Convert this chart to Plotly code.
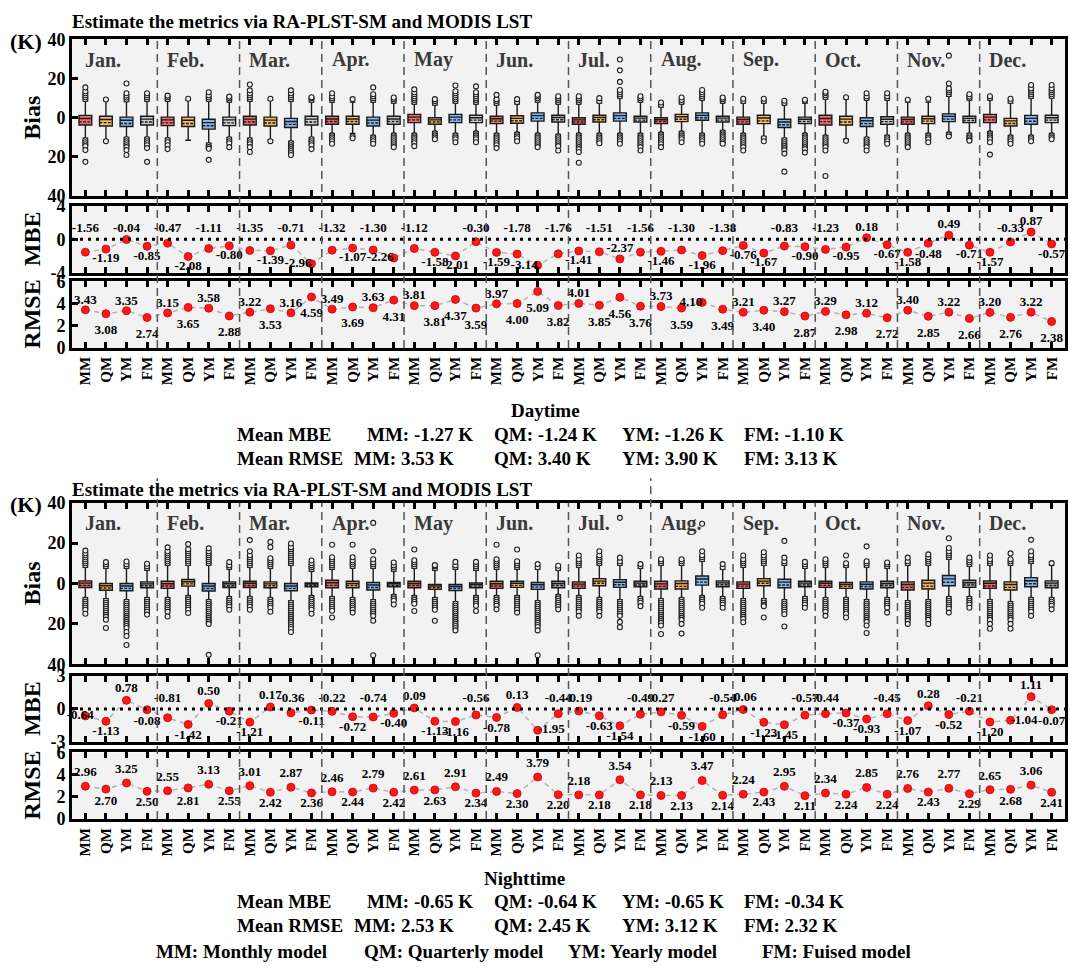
import plotly.graph_objects as go

W, H = 1070, 977
FONT = "Liberation Serif"

months = ["Jan.", "Feb.", "Mar.", "Apr.", "May", "Jun.",
          "Jul.", "Aug.", "Sep.", "Oct.", "Nov.", "Dec."]
models = ["MM", "QM", "YM", "FM"]
model_names = ["MM: Monthly model", "QM: Quarterly model",
               "YM: Yearly model", "FM: Fuised model"]

# ---- monthly MBE / RMSE (MM, QM, YM, FM for each month) ----
day_mbe = [-1.56, -1.19, -0.04, -0.85, -0.47, -2.08, -1.11, -0.80,
           -1.35, -1.39, -0.71, -2.96, -1.32, -1.07, -1.30, -2.26,
           -1.12, -1.58, -2.01, -0.30, -1.59, -1.78, -3.14, -1.76,
           -1.41, -1.51, -2.37, -1.56, -1.46, -1.30, -1.96, -1.38,
           -0.76, -1.67, -0.83, -0.90, -1.23, -0.95, 0.18, -0.67,
           -1.58, -0.48, 0.49, -0.71, -1.57, -0.33, 0.87, -0.57]
day_rmse = [3.43, 3.08, 3.35, 2.74, 3.15, 3.65, 3.58, 2.88,
            3.22, 3.53, 3.16, 4.59, 3.49, 3.69, 3.63, 4.31,
            3.81, 3.81, 4.37, 3.59, 3.97, 4.00, 5.09, 3.82,
            4.01, 3.85, 4.56, 3.76, 3.73, 3.59, 4.10, 3.49,
            3.21, 3.40, 3.27, 2.87, 3.29, 2.98, 3.12, 2.72,
            3.40, 2.85, 3.22, 2.66, 3.20, 2.76, 3.22, 2.38]
night_mbe = [-0.64, -1.13, 0.78, -0.08, -0.81, -1.42, 0.50, -0.21,
             -1.21, 0.17, -0.36, -0.11, -0.22, -0.72, -0.74, -0.40,
             0.09, -1.13, -1.16, -0.56, -0.78, 0.13, -1.95, -0.44,
             -0.19, -0.63, -1.54, -0.49, -0.27, -0.59, -1.60, -0.54,
             -0.06, -1.23, -1.45, -0.57, -0.44, -0.37, -0.93, -0.45,
             -1.07, 0.28, -0.52, -0.21, -1.20, -1.04, 1.11, -0.07]
night_rmse = [2.96, 2.70, 3.25, 2.50, 2.55, 2.81, 3.13, 2.55,
              3.01, 2.42, 2.87, 2.36, 2.46, 2.44, 2.79, 2.42,
              2.61, 2.63, 2.91, 2.34, 2.49, 2.30, 3.79, 2.20,
              2.18, 2.18, 3.54, 2.18, 2.13, 2.13, 3.47, 2.14,
              2.24, 2.43, 2.95, 2.11, 2.34, 2.24, 2.85, 2.24,
              2.76, 2.43, 2.77, 2.29, 2.65, 2.68, 3.06, 2.41]

day_means = {"MBE": ["-1.27", "-1.24", "-1.26", "-1.10"],
             "RMSE": ["3.53", "3.40", "3.90", "3.13"]}
night_means = {"MBE": ["-0.65", "-0.64", "-0.65", "-0.34"],
               "RMSE": ["2.53", "2.45", "3.12", "2.32"]}

# ---- bias box statistics per month: (lower whisker, q1, median, mean, q3, upper whisker) ----
day_box_mm = [(-10.5, -3.7, -0.4, -2.1, 1.2, 8.5), (-10.5, -4.0, -1.1, -2.6, 0.3, 8.5),
              (-10.5, -3.7, -0.7, -2.2, 0.8, 8.5), (-8, -3.3, -0.6, -1.9, 0.8, 8),
              (-8, -2.5, 0.3, -1.1, 1.7, 7), (-8, -3.0, -0.5, -1.7, 0.8, 6.5),
              (-8, -3.3, -1.1, -2.2, 0.0, 7), (-7.5, -3.0, -1.0, -2.0, 0.0, 5.5),
              (-8, -3.3, -0.9, -2.1, 0.3, 7.5), (-9, -3.7, -0.4, -2.0, 1.3, 9.5),
              (-8, -3.3, -0.9, -2.1, 0.3, 8), (-7, -2.5, 0.3, -1.1, 1.7, 9)]
day_box_qm = [(-11.5, -4.2, -0.9, -2.5, 0.8, 8.8), (-11.5, -4.5, -1.3, -2.9, 0.3, 9),
              (-11.5, -4.2, -1.2, -2.7, 0.3, 9), (-8, -3.3, -0.6, -1.9, 0.8, 8),
              (-7, -3.3, -1.1, -2.2, 0.0, 6.5), (-7.5, -2.8, -0.3, -1.5, 1.0, 7),
              (-8, -2.2, 0.1, -1.0, 1.3, 7.5), (-7, -2.0, 0.5, -0.8, 1.7, 7),
              (-9.5, -3.0, -0.1, -1.6, 1.3, 7.5), (-11, -3.7, -0.7, -2.2, 0.8, 9.5),
              (-8, -3.0, -0.5, -1.7, 0.8, 8), (-9, -4.2, -1.6, -2.9, -0.3, 7.5)]
day_box_ym = [(-10, -4.5, -1.3, -2.9, 0.3, 8.3), (-13, -5.8, -2.5, -4.1, -0.8, 8.5),
              (-12, -5.0, -1.9, -3.4, -0.3, 8.5), (-9, -4.2, -1.2, -2.7, 0.3, 8),
              (-8, -2.5, 0.3, -1.1, 1.7, 7.5), (-8, -1.7, 1.1, -0.3, 2.5, 8),
              (-8, -1.7, 1.1, -0.3, 2.5, 10), (-8, -1.3, 1.2, 0.0, 2.5, 9),
              (-10.5, -5.0, -2.2, -3.6, -0.8, 6.5), (-10, -4.5, -1.5, -3.0, 0.0, 9),
              (-7.5, -2.0, 0.7, -0.7, 2.0, 11), (-9, -3.3, -0.3, -1.8, 1.2, 10)]
day_box_fm = [(-10, -3.7, -0.7, -2.2, 0.8, 8.5), (-10, -4.0, -1.1, -2.6, 0.3, 8),
              (-10, -3.7, -0.7, -2.2, 0.8, 8), (-8, -3.3, -0.6, -1.9, 0.8, 7.5),
              (-7, -2.5, 0.0, -1.2, 1.3, 7), (-8.5, -2.2, 0.1, -1.0, 1.3, 7),
              (-8, -2.2, -0.2, -1.2, 0.8, 8), (-6.5, -2.2, -0.2, -1.2, 0.8, 7.5),
              (-8, -3.0, -0.8, -1.9, 0.3, 7.5), (-9, -3.3, -0.8, -2.0, 0.5, 9),
              (-8, -2.5, -0.3, -1.4, 0.8, 9), (-8, -2.5, 0.0, -1.2, 1.3, 10)]

night_box_mm = [(-7, -2.0, 0.2, -0.9, 1.3, 8), (-7, -2.4, -0.1, -1.2, 1.1, 9),
                (-6.5, -2.0, 0.1, -1.0, 1.1, 8), (-6.5, -2.1, 0.4, -0.9, 1.6, 7),
                (-6, -2.1, 0.0, -1.0, 1.1, 7.5), (-6, -2.4, -0.1, -1.2, 1.1, 7),
                (-6, -2.4, -0.3, -1.3, 0.8, 8), (-7.5, -2.7, -0.2, -1.4, 1.1, 9),
                (-7.5, -2.4, -0.3, -1.3, 0.8, 8), (-7, -1.9, 0.1, -0.9, 1.1, 8),
                (-8.5, -3.2, -0.5, -1.9, 0.8, 9), (-8, -2.4, 0.1, -1.2, 1.3, 9)]
night_box_qm = [(-7.5, -3.3, -1.1, -2.2, 0.0, 7.5), (-6, -1.3, 0.9, -0.2, 2.0, 9),
                (-7, -2.1, -0.2, -1.1, 0.8, 7.5), (-7, -2.1, 0.0, -1.0, 1.1, 7.5),
                (-7, -2.9, -1.3, -2.1, -0.5, 6.5), (-6, -1.9, 0.1, -0.9, 1.1, 7),
                (-7, -1.1, 1.2, 0.1, 2.4, 9), (-7, -2.7, 0.0, -1.4, 1.3, 9),
                (-7.5, -1.1, 1.2, 0.1, 2.4, 9), (-7, -2.4, -0.5, -1.4, 0.5, 8),
                (-8, -2.7, 0.2, -1.3, 1.6, 9), (-9, -3.2, -0.5, -1.9, 0.8, 9)]
night_box_ym = [(-8, -3.6, -1.2, -2.4, 0.0, 7.5), (-8, -3.7, -1.2, -2.5, 0.0, 9),
                (-8.5, -3.6, -1.2, -2.4, 0.0, 9), (-8, -3.2, -0.7, -2.0, 0.5, 7.5),
                (-9, -3.5, -1.5, -2.5, -0.5, 7), (-8.5, -2.9, -0.6, -1.8, 0.5, 7),
                (-8, -1.9, 0.6, -0.6, 1.9, 9), (-6, -0.8, 2.2, 0.7, 3.7, 11),
                (-8, -2.1, 0.7, -0.7, 2.1, 9), (-8, -2.7, -0.4, -1.5, 0.8, 8),
                (-6.5, -1.1, 2.3, 0.6, 4.0, 12), (-7, -1.6, 1.4, -0.1, 2.9, 10)]
night_box_fm = [(-7, -2.1, -0.2, -1.1, 0.8, 6.5), (-6.5, -2.0, -0.1, -1.1, 0.8, 7),
                (-6, -1.6, -0.3, -1.0, 0.3, 6), (-5.5, -1.6, -0.2, -0.9, 0.5, 6),
                (-6, -2.1, -0.5, -1.3, 0.3, 6.5), (-5.5, -2.1, 0.0, -1.0, 1.1, 6.5),
                (-6.5, -1.6, 0.2, -0.7, 1.1, 7.5), (-6.5, -1.6, 0.3, -0.6, 1.3, 7),
                (-6.5, -1.6, 0.2, -0.7, 1.1, 7.5), (-7, -2.1, 0.0, -1.0, 1.1, 7.5),
                (-6.5, -1.9, 0.4, -0.7, 1.6, 8.5), (-7, -2.1, 0.2, -1.0, 1.3, 9)]

# ---- bias outliers per month ----
day_out_mm = [[9.5, 10.5, 11.5, 12.5, 13.5, 15.5, -11.5, -12.5, -13.5, -14.5, -16.5, -22.5],
              [9.5, 10.5, 11.3, -11.5, -12.5, -14, -16],
              [9.5, 10.5, 11.5, 12.5, 14, 17, -11.5, -12.5, -13.5, -15, -17.5],
              [9, 10, 11, 12.5, -9, -10, -11, -12, -13.3],
              [8, 9, 10, 11, 12, 13, 14.5, -9, -10, -11, -12, -13, -14.5],
              [7.5, 8.5, 9.5, 11.7, -9, -10, -11, -12, -13, -14, -15.5],
              [8, 9, 10, 11, -9, -10, -11, -12, -13, -14, -15, -16, -17.5, -23],
              [6.5, 7.8, -8.5, -9.5, -10.5, -11.5, -12.5, -13.5, -15],
              [8.5, 9.7, -9, -10, -11, -12, -13, -14, -15, -16.7],
              [10.5, 11.5, 12.5, 13.3, -10, -11, -12, -13, -14, -15, -16.7, -29.7],
              [9.2, -9, -10, -11, -12, -13, -14, -15],
              [10, 11, -8, -9, -10, -11, -12.5, -18.8]]
day_out_qm = [[9.3, -12], [9.7], [9.7, -12], [9.5, -9.5, -10.5],
              [7.5, 8.5, 9.5, -8, -9, -10, -11], [8, 9.5, -8.5, -9.5, -10.5, -12],
              [8.5, 10, -9, -10, -11, -12, -13], [8, 9, 10.3, -8, -9, -10, -11, -12.5],
              [8.5, 9.7, -10.5, -12], [10.5, -11.8], [9.7, -9, -10, -11, -12.5],
              [8.5, 9.7, -10, -11, -12, -13.3]]
day_out_ym = [[9.3, 10.3, 11.3, 12.5, 17.5, -11, -12, -13, -14, -15, -16.5, -19],
              [9.5, 10.5, 11.5, 13, -14, -15, -15.8, -21.5],
              [9.5, 10.5, 11.5, 12.5, 14, -13, -14, -15, -16, -17, -18, -19],
              [9, 10, 11, 12, 15.5, -10, -11, -12, -13.3],
              [8.5, 9.5, 10.5, 11.5, 12.5, 13.5, 16.5, -9, -10, -11, -12.5],
              [9, 10, 11, 11.7, -9, -10, -11, -12, -13, -14, -15],
              [11, 12, 13, 14.2, 18.3, 24.2, 29.7, -9, -10, -11, -12, -13.3],
              [10, 11, 12, 13, 14.2, -9, -10, -11, -12, -13.3],
              [7.5, 8.7, -11.5, -12.5, -13.5, -14.5, -15.5, -16.5, -18.3, -27.5],
              [10, 11, 12.5, -11, -12, -13, -14, -15, -16.7],
              [12, 13, 14, 15, 17.5, 31.7, -8.5, -9.5],
              [11, 12, 13, 14, 15, 16.7, -10, -11, -12]]
day_out_fm = [[9.5, 10.5, 11.5, 12.5, -11, -12, -13, -14, -15.5, -22.5],
              [9, 10, 10.8, -11, -12, -13, -15],
              [9, 10, 10.5, -11, -12, -13, -14, -16],
              [8.5, 9.5, 10.3, -9, -10, -11, -12, -13, -14, -15],
              [8, 9, 10, 11, 12, 13, 16, -8, -9, -10, -11, -12.5],
              [8, 9, 10, 11, -9.5, -10.5, -11.5, -12.5, -13.5, -14.5, -16.7],
              [9, 10, 11, -9, -10, -11, -12, -13, -14, -15, -16.7],
              [8.5, 9.5, 10.3, -7.5, -8.5, -9.5, -10.5, -11.5, -12.5, -13.3],
              [8.5, 9.2, -9, -10, -11, -12, -13, -14, -15, -16, -17.8],
              [10, 11, 12.5, -10, -11, -12, -13.3],
              [10, 10.8, 12, -9, -10, -11, -11.7],
              [11, 12, 13, 14, 15, 16.7, -9, -10, -11]]

night_out_mm = [[9, 10, 11, 12, 13, 14, 15, 16.3, -8, -9, -10, -11, -12, -13, -15],
                [10, 11, 12, 13, 14, 15, 16, 17.9, -8, -9, -10, -11, -12, -13, -14, -16.3],
                [9, 10, 11, 12, 13, 14, 16, 21.5, -7.5, -8.5, -9.5, -10.5, -11.5, -13],
                [8, 9, 10, 11, 12, 13, 19.2, -7.5, -8.5, -9.5, -10.5, -11.5, -12.5, -13.5, -16.8],
                [8.5, 9.5, 10.5, 11.5, 16.8, -7, -8, -9, -10, -13.6],
                [8, 9, 10, 11, 12, 19.2, -7, -8, -9, -10, -11, -12.8],
                [9, 10, 11, 12, 13.9, -7, -8, -9, -10, -11, -12, -13, -14, -16],
                [10, 11, 12, -8.5, -9.5, -10.5, -11.5, -12.5, -13.5, -14.5, -15.5, -16.5,
                 -17.5, -18.5, -19.5, -20.8, -25],
                [9, 10, 11, 12, 13.9, -8.5, -9.5, -10.5, -11.5, -12.5, -13.5, -14.5, -15.5,
                 -16.5, -17.5, -19.2],
                [9, 10, 11, 12, -8, -9, -10, -11, -12, -13, -14, -16],
                [10, 11, 12.8, -9.5, -10.5, -11.5, -12.5, -13.5, -14.5, -15.5, -16.5, -17.5,
                 -18.5, -20],
                [10, 11, 12, 13.9, -9, -10, -11, -12, -13, -14, -15, -16, -17, -18, -20, -22.4]]
night_out_qm = [[8.5, 9.5, 10.6, -8.5, -9.5, -10.5, -11.5, -12.5, -13.5, -14.5, -15.5, -16.5,
                 -17.9, -22],
                [10, 11, 12, 13, 14, 15, 16, 17, 19.5, -7, -8, -9, -10, -11, -12, -13, -14.6],
                [8.5, 9.5, 10.5, 11.5, 12.5, 18, 20.6, -8, -9, -10, -11, -12, -14],
                [8.5, 9.5, 10.5, 11.5, 13, 19.2, -8, -9, -10, -11, -12, -13, -14.4],
                [7.5, 8.5, 9.1, -8, -9, -10, -11, -12, -13, -18.4],
                [8, 9, 10, 11, 16.8, -7, -8, -9, -10, -11, -12, -13, -14.4],
                [10, 11, 12, 13, 14, 16, -8, -9, -10, -11, -12, -13, -14, -16],
                [10, 11, 12, -8, -9, -10, -11, -12, -13, -14, -15, -16, -17, -18, -20, -24.8],
                [10, 11, 12, 13, 14, 15.5, -8.5, -9.5, -10.5, -11.2, -16.8],
                [9, 10, 13.9, -8, -9, -10, -11, -12, -13, -14, -15, -16.8],
                [10, 11, 12, 13, 14.4, -9, -10, -11, -12, -13, -14, -15, -16, -17, -18, -20],
                [10, 11, 12, 14.9, -10, -11, -12, -13, -14, -15, -16, -17, -18, -20, -22.4]]
night_out_ym = [[8.5, 9.5, 10.9, -9, -10, -11, -12, -13, -14, -15, -16, -17, -18, -19, -20,
                 -21, -22, -24, -26, -30.4],
                [10, 11, 12, 13, 14, 15, 16, 17.4, -9, -10, -11, -12, -13, -14, -15, -16,
                 -17, -18, -19, -20, -35.3],
                [10, 11, 12, 13, 14, 15, 16, 17, 18, 19.8, -9.5, -10.5, -11.5, -12.5, -13.5,
                 -14.5, -15.5, -16.5, -17.5, -18.5, -19.5, -20.5, -21.5, -22.5, -24],
                [8.5, 9.5, 10.5, 12, 16, 30, -9, -10, -11, -12, -13, -14, -15, -16, -18.4, -35.5],
                [8, 9, 10.7, -10, -11, -12, -13, -14, -15, -16, -17, -18, -19, -20, -21, -22,
                 -23.2],
                [8, 9.6, -9.5, -10.5, -11.5, -12.5, -13.5, -14.5, -15.5, -16.5, -17.5, -18.5,
                 -19.5, -20.5, -21.5, -23.2, -35.5],
                [10, 11, 12.8, 32.5, -9, -10, -11, -12, -13, -14, -15, -16, -19, -21.6],
                [12, 13, 14, 16, 29.6, -7, -8, -9, -10, -12],
                [10, 11, 12.8, 21.1, -9, -10, -11, -12, -13, -14, -15.2, -21.3],
                [9, 10, 11, 18.4, -9, -10, -11, -12, -13, -14, -15, -16, -17, -18, -19, -20.8,
                 -24.5],
                [13, 14, 15, 16, 17.6, 22.4, -7.5, -8.5, -9.5, -10.5, -11.5, -12.5, -14.4],
                [11, 12, 13, 14, 16, 21.6, -8, -9, -10, -11, -12, -13, -14, -16]]
night_out_fm = [[7.5, 8.5, 9.8, -8, -9, -10, -11, -12, -13, -14, -15.4],
                [8, 9, 10.6, -7.5, -8.5, -9.5, -10.5, -11.5, -13],
                [7, 8, 9, 10, 11.4, -7, -8, -9, -10, -11, -12, -13, -15],
                [7, 8, 9, 10.4, -6.5, -7.5, -8.5, -10.4],
                [7.5, 8.5, 9.5, 10.7, -7, -8, -9, -10, -11, -13.6],
                [7.5, 8.8, -6.5, -7.5, -8.5, -9.5, -10.5, -11.5, -12.8],
                [8.5, 9.6, -7.5, -8.5, -9.5, -11.2],
                [8, 9.6, -7.5, -8.5, -9.5, -10.5, -12],
                [8.5, 9.5, 10.7, -7.5, -8.5, -9.5, -10.5, -12],
                [8.5, 9.5, 10.4, -8, -9, -10, -11, -12, -14.4],
                [9.5, 10.5, 11.5, 12.8, -7.5, -8.5, -9.5, -10.5, -12],
                [10.1, -8, -9, -10, -11, -12.8]]

# label placement codes per month:
# a/A above, b below, l left of point, L just left overlapping, r right of point
day_mbe_pos = "".join(["abab", "abab", "abal", "abal", "abba", "bala",
                       "baAa", "baba", "bbab", "abab", "bbab", "baab"])
day_rmse_pos = "".join(["abab", "abab", "abab", "abab", "abbb", "abbb",
                        "abbb", "ablb", "abab", "abab", "abab", "abab"])
night_mbe_pos = "".join(["Lbab", "abab", "baab", "abab", "abba", "bara",
                         "abba", "abba", "abba", "abba", "baba", "brab"])
night_rmse_pos = "abab" * 12

COLORS_DAY = ["#ee6a6c", "#f5b968", "#86b7ec", "#cbcbcb"]
COLORS_NIGHT = ["#e0686a", "#f0b25f", "#86b7ec", "#a9a9a9"]


def py(p):
    return 1 - p / H


def px(p):
    return p / W


X_DOM = [px(72), px(1065)]

# pixel rows of each group: bias, MBE, RMSE panels
groups = [
    dict(bias_px=(30, 190), mbe_px=(200, 268), rmse_px=(277, 345), mbe_range=4,
         axes=("", "2", "3"), boxes=[day_box_mm, day_box_qm, day_box_ym, day_box_fm],
         outs=[day_out_mm, day_out_qm, day_out_ym, day_out_fm], colors=COLORS_DAY,
         mbe=day_mbe, rmse=day_rmse, mbe_pos=day_mbe_pos, rmse_pos=day_rmse_pos,
         mbe_lab=(1.2, 1.2, 1.2, -1.85, -3.4), rmse_lab=(0.85, -99, 1.55, 99, 0.4),
         title_y=12, name="Daytime", name_x=545, name_y=409, lines_y=(433, 458),
         means=day_means),
    dict(bias_px=(503, 668), mbe_px=(680, 747), rmse_px=(758, 826), mbe_range=3,
         axes=("4", "5", "6"), boxes=[night_box_mm, night_box_qm, night_box_ym, night_box_fm],
         outs=[night_out_mm, night_out_qm, night_out_ym, night_out_fm], colors=COLORS_NIGHT,
         mbe=night_mbe, rmse=night_rmse, mbe_pos=night_mbe_pos, rmse_pos=night_rmse_pos,
         mbe_lab=(1.05, 0.9, 1.0, -1.2, -2.6), rmse_lab=(1.2, -99, 1.0, 1.6, 0.5),
         title_y=490, name="Nighttime", name_x=524, name_y=887, lines_y=(910, 935),
         means=night_means),
]

fig = go.Figure()
annotations = []
shapes = []
layout_axes = {}


def bold(size, color="black"):
    return dict(family=FONT, size=size, color=color, weight="bold")


def x_axis(anchor, labels):
    return dict(domain=X_DOM, anchor=anchor, range=[-0.65, 47.65],
                tickmode="array", tickvals=list(range(48)), ticktext=models * 12,
                showticklabels=labels, tickangle=-90, tickfont=bold(15),
                ticks="inside", ticklen=6, tickwidth=2.5, tickcolor="black",
                showline=True, linewidth=3, linecolor="black", mirror="ticks",
                showgrid=False, zeroline=False, fixedrange=True)


def y_axis(anchor, dom, rng, vals, texts):
    return dict(domain=[py(dom[1]), py(dom[0])], anchor=anchor, range=rng,
                tickmode="array", tickvals=vals, ticktext=texts, tickfont=bold(18),
                ticks="inside", ticklen=6, tickwidth=2.5, tickcolor="black",
                showline=True, linewidth=3, linecolor="black", mirror=True,
                showgrid=False, zeroline=False, fixedrange=True)


def label_points(values, codes, params, xa, ya):
    da, row_a, db, row_b, floor = params
    xs, ys, texts, poss = [], [], [], []
    for i, (v, c) in enumerate(zip(values, codes)):
        x = i
        if c == "a":
            y, p = max(v + da, row_a), "middle center"
        elif c == "A":
            y, p = v + da, "middle center"
        elif c == "b":
            y, p = max(min(v - db, row_b), floor), "middle center"
        elif c == "l":
            y, p = v, "middle left"
        elif c == "L":
            x, y, p = i - 0.25, v, "middle center"
        else:
            y, p = v, "middle right"
        xs.append(x)
        ys.append(y)
        texts.append(f"{v:.2f}")
        poss.append(p)
    fig.add_trace(go.Scatter(x=xs, y=ys, text=texts, mode="text", textposition=poss,
                             textfont=bold(13), xaxis=xa, yaxis=ya, cliponaxis=False,
                             showlegend=False, hoverinfo="skip"))


for g in groups:
    a_b, a_m, a_r = g["axes"]
    xb, yb = "x" + a_b, "y" + a_b
    xm, ym = "x" + a_m, "y" + a_m
    xr, yr = "x" + a_r, "y" + a_r

    layout_axes["xaxis" + a_b] = x_axis(yb, False)
    layout_axes["xaxis" + a_m] = x_axis(ym, False)
    layout_axes["xaxis" + a_r] = x_axis(yr, True)
    layout_axes["yaxis" + a_b] = y_axis(xb, g["bias_px"], [-40, 40], [-40, -20, 0, 20, 40],
                                        ["40", "20", "0", "20", "40"])
    r = g["mbe_range"]
    layout_axes["yaxis" + a_m] = y_axis(xm, g["mbe_px"], [-r, r], [-r, 0, r],
                                        [f"-{r}", "0", f"{r}"])
    layout_axes["yaxis" + a_r] = y_axis(xr, g["rmse_px"], [0, 6], [0, 2, 4, 6],
                                        ["0", "2", "4", "6"])

    # bias boxes and outliers
    for k in range(4):
        stats = g["boxes"][k]
        pos = [4 * m + k for m in range(12)]
        fig.add_trace(go.Box(
            x=pos, lowerfence=[s[0] for s in stats], q1=[s[1] for s in stats],
            median=[s[2] for s in stats], mean=[s[3] for s in stats],
            q3=[s[4] for s in stats], upperfence=[s[5] for s in stats],
            boxmean=True, width=0.62, whiskerwidth=0.45, fillcolor=g["colors"][k],
            line=dict(color="#1a1a1a", width=1.4), boxpoints=False,
            xaxis=xb, yaxis=yb, showlegend=False, hoverinfo="skip"))
        ox, oy = [], []
        for m, vals in enumerate(g["outs"][k]):
            ox += [4 * m + k] * len(vals)
            oy += vals
        fig.add_trace(go.Scatter(
            x=ox, y=oy, mode="markers",
            marker=dict(symbol="circle", size=5, color="#f0f0f0",
                        line=dict(color="#222222", width=1.1)),
            xaxis=xb, yaxis=yb, showlegend=False, hoverinfo="skip"))

    # MBE and RMSE series
    for vals, xa, ya in ((g["mbe"], xm, ym), (g["rmse"], xr, yr)):
        fig.add_trace(go.Scatter(
            x=list(range(48)), y=vals, mode="lines+markers",
            line=dict(color="#b4b4b4", width=1.5, dash="5px,4px"),
            marker=dict(color="#ff1717", size=8, line=dict(color="#c80000", width=0.8)),
            xaxis=xa, yaxis=ya, showlegend=False, hoverinfo="skip"))
    label_points(g["mbe"], g["mbe_pos"], g["mbe_lab"], xm, ym)
    label_points(g["rmse"], g["rmse_pos"], g["rmse_lab"], xr, yr)

    # dotted zero line of the MBE panel
    shapes.append(dict(type="line", xref=xm + " domain", x0=0, x1=1, yref=ym, y0=0, y1=0,
                       line=dict(color="black", width=3, dash="3px,5px"), layer="above"))

    # month separators
    for m in range(1, 12):
        top = g["bias_px"][0]
        if g["name"] == "Nighttime" and m in (1, 7):
            top = 478
        shapes.append(dict(type="line", xref="x", x0=4 * m - 0.5, x1=4 * m - 0.5,
                           yref="paper", y0=py(g["rmse_px"][1]), y1=py(top),
                           line=dict(color="#555555", width=1.5, dash="8px,5px"),
                           layer="above"))
    for m, name in enumerate(months):
        annotations.append(dict(text=name, xref="x", x=4 * m - 0.12, xanchor="left",
                                yref="paper", y=py(g["bias_px"][0] + 21), yanchor="middle",
                                showarrow=False, font=bold(20, "#3a3a3a")))

    # panel titles and side labels
    annotations.append(dict(text="Estimate the metrics via RA-PLST-SM and MODIS LST",
                            xref="paper", x=px(70), xanchor="left", yref="paper",
                            y=py(g["title_y"]), yanchor="middle", showarrow=False,
                            font=bold(19)))
    annotations.append(dict(text="(K)", xref="paper", x=px(8), xanchor="left",
                            yref="paper", y=py(g["bias_px"][0] + 2), yanchor="middle",
                            showarrow=False, font=bold(22)))
    for txt, (t, b) in (("Bias", g["bias_px"]), ("MBE", g["mbe_px"]), ("RMSE", g["rmse_px"])):
        annotations.append(dict(text=txt, textangle=-90, xref="paper", x=px(32),
                                xanchor="center", yref="paper", y=py((t + b) / 2),
                                yanchor="middle", showarrow=False, font=bold(24)))

    # summary lines under each group
    annotations.append(dict(text=g["name"], xref="paper", x=px(g["name_x"]),
                            xanchor="center", yref="paper", y=py(g["name_y"]),
                            yanchor="middle", showarrow=False, font=bold(19)))
    for key, yy, xs in (("MBE", g["lines_y"][0], (365, 492, 620, 742)),
                        ("RMSE", g["lines_y"][1], (352, 492, 620, 742))):
        annotations.append(dict(text=f"Mean {key}", xref="paper", x=px(235),
                                xanchor="left", yref="paper", y=py(yy), yanchor="middle",
                                showarrow=False, font=bold(19)))
        for k in range(4):
            annotations.append(dict(text=f"{models[k]}: {g['means'][key][k]} K",
                                    xref="paper", x=px(xs[k]), xanchor="left",
                                    yref="paper", y=py(yy), yanchor="middle",
                                    showarrow=False, font=bold(19)))

# model legend line
for name, x0 in zip(model_names, (154, 362, 566, 760)):
    annotations.append(dict(text=name, xref="paper", x=px(x0), xanchor="left",
                            yref="paper", y=py(961), yanchor="middle", showarrow=False,
                            font=bold(19)))

fig.update_layout(
    width=W, height=H, margin=dict(l=0, r=0, t=0, b=0),
    paper_bgcolor="white", plot_bgcolor="#f2f2f2",
    boxmode="overlay", showlegend=False,
    annotations=annotations, shapes=shapes, **layout_axes)

fig.write_html("out.html")
